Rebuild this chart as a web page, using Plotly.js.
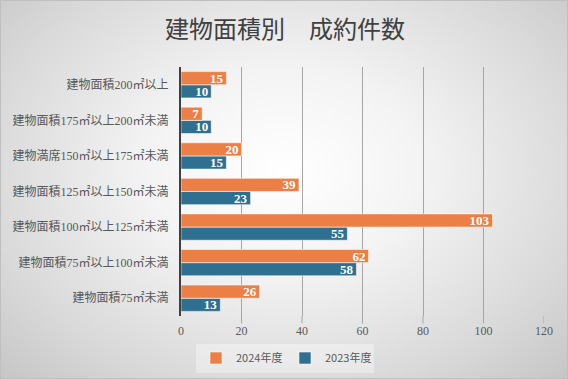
<!DOCTYPE html>
<html><head><meta charset="utf-8">
<script src="https://cdn.plot.ly/plotly-3.0.1.min.js"></script>
<style>
html,body{margin:0;padding:0;}
#chart{width:568px;height:379px;box-sizing:border-box;border:1px solid #bfbfbf;
background:radial-gradient(ellipse at 50% 45%, #ffffff 0%, #f3f3f3 35%, #d9d9d9 75%, #c6c6c6 100%);}
</style></head>
<body><div id="chart"></div>
<script>
const categories = ["建物面積75㎡未満","建物面積75㎡以上100㎡未満","建物面積100㎡以上125㎡未満","建物面積125㎡以上150㎡未満","建物満席150㎡以上175㎡未満","建物面積175㎡以上200㎡未満","建物面積200㎡以上"];
const values2024 = [26,62,103,39,20,7,15];
const values2023 = [13,58,55,23,15,10,10];
const xTicks = [0,20,40,60,80,100,120];
const seriesNames = ["2024年度","2023年度"];

const serif = "Liberation Serif, DejaVu Serif, Noto Sans CJK JP, serif";
const sans = "Noto Sans CJK JP, Noto Sans, sans-serif";
const common = {type:'bar', orientation:'h', textposition:'inside', insidetextanchor:'end', textangle:0,
  textfont:{family:serif, size:13, color:'#ffffff', weight:'bold'}, cliponaxis:false, hoverinfo:'x+y'};
const data = [
  Object.assign({}, common, {name:seriesNames[1], y:categories, x:values2023, text:values2023.map(String),
    marker:{color:'#2F7091', line:{color:'rgba(255,255,255,0.55)', width:1}}}),
  Object.assign({}, common, {name:seriesNames[0], y:categories, x:values2024, text:values2024.map(String),
    marker:{color:'#EB7F45', line:{color:'rgba(255,255,255,0.55)', width:1}}})
];
const layout = {
  width:568, height:379,
  paper_bgcolor:'rgba(0,0,0,0)', plot_bgcolor:'rgba(0,0,0,0)',
  margin:{l:180, r:25, t:66, b:64},
  title:{text:"建物面積別　成約件数", x:0.5, xanchor:'center', y:0.925, yanchor:'middle',
    font:{family:sans, size:24, color:'#404040'}},
  barmode:'group', bargap:0.26, bargroupgap:0,
  uniformtext:{mode:'show', minsize:13},
  xaxis:{range:[0,120], tickvals:xTicks, ticktext:xTicks.map(String), showgrid:true, gridcolor:'#a6a6a6', gridwidth:1,
    zeroline:false, showline:false, ticks:'outside', ticklen:0, ticklabelstandoff:4, tickfont:{family:serif, size:12, color:'#595959'}},
  yaxis:{type:'category', categoryorder:'array', categoryarray:categories, showline:true, linecolor:'#404040', linewidth:2,
    ticks:'', tickfont:{family:serif, size:12, color:'#595959'}, ticklabelstandoff:8, showgrid:false},
  legend:{orientation:'h', xref:'container', x:0.5, xanchor:'center', yref:'container', y:0.058, yanchor:'middle', traceorder:'reversed',
    bgcolor:'rgba(255,255,255,0.35)', font:{family:sans, size:11, color:'#595959'}, itemwidth:30, entrywidth:44, entrywidthmode:'pixels'},
  shapes: xTicks.filter(v=>v>0).map(v=>({type:'line', xref:'x', yref:'paper', x0:v, x1:v, y0:-0.0, y1:-0.03, line:{color:'#a6a6a6', width:1}}))
};
Plotly.newPlot('chart', data, layout, {displayModeBar:false});
</script></body></html>
